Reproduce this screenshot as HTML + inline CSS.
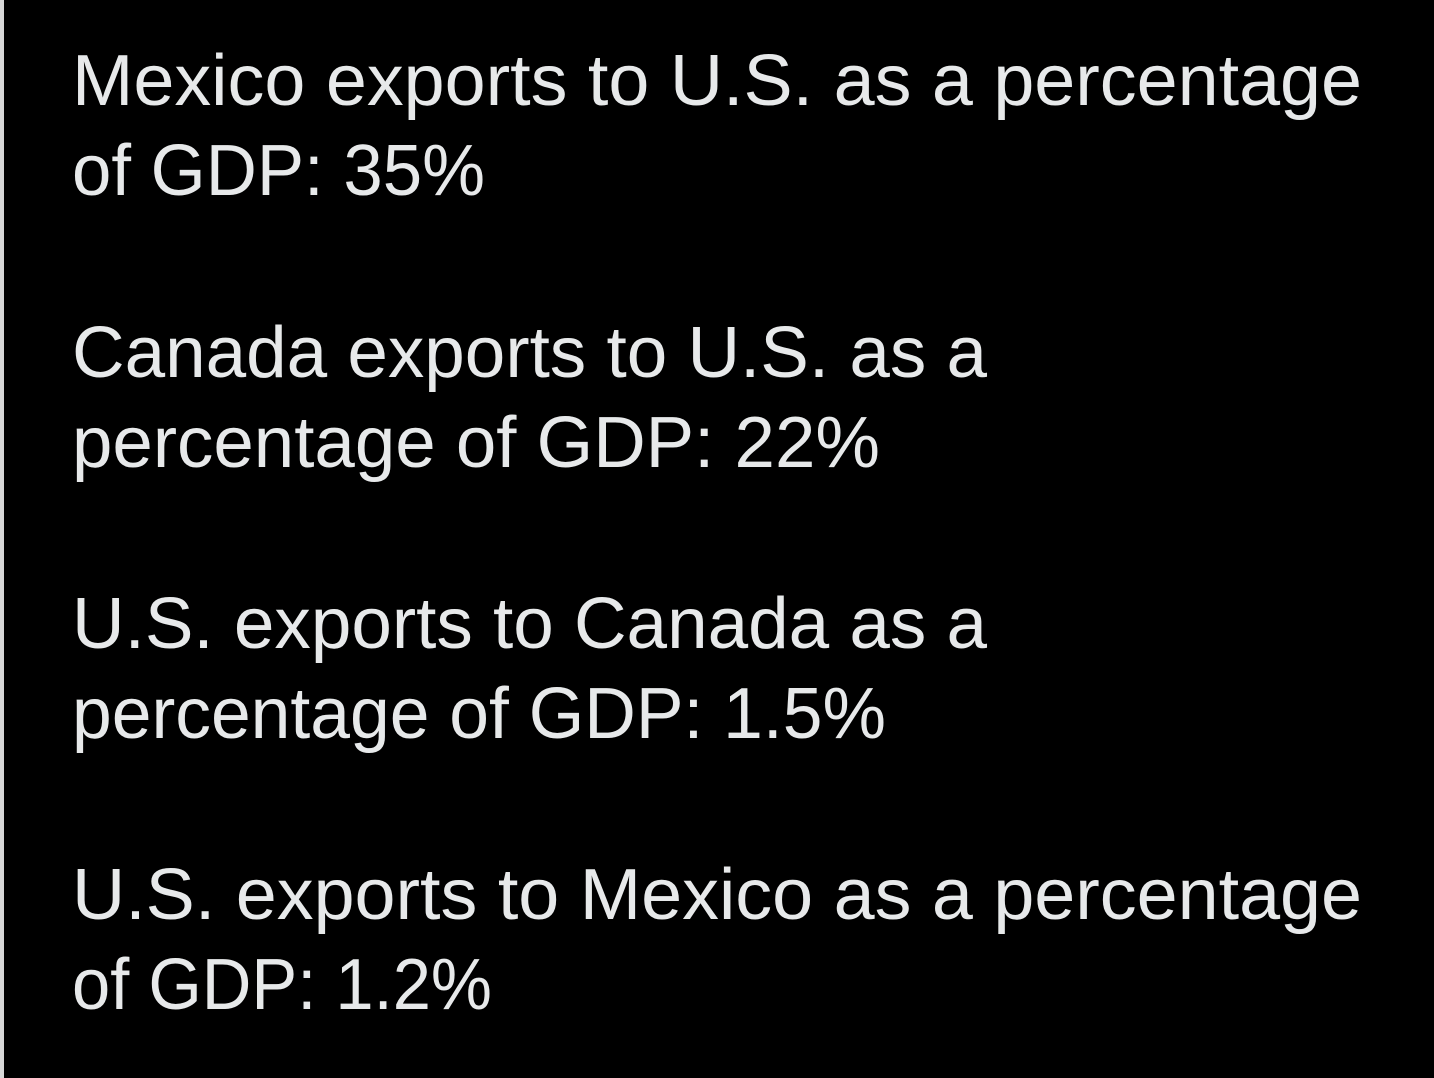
<!DOCTYPE html>
<html><head><meta charset="utf-8"><style>
html,body{margin:0;padding:0;background:#000;}
body{width:1434px;height:1078px;overflow:hidden;position:relative;}
.b{position:absolute;left:0;top:0;width:4px;height:1078px;background:#d8d8d8;}
svg{position:absolute;left:0;top:0;}
text{font-family:"Liberation Sans",sans-serif;font-size:72px;fill:#e7e9ea;}
</style></head><body>
<div class="b"></div>
<svg width="1434" height="1078">
<text x="72" y="105" textLength="1290" lengthAdjust="spacingAndGlyphs">Mexico exports to U.S. as a percentage</text>
<text x="72" y="195" textLength="413" lengthAdjust="spacingAndGlyphs">of GDP: 35%</text>
<text x="72" y="377" textLength="915" lengthAdjust="spacingAndGlyphs">Canada exports to U.S. as a</text>
<text x="72" y="467" textLength="808" lengthAdjust="spacingAndGlyphs">percentage of GDP: 22%</text>
<text x="72" y="648" textLength="915" lengthAdjust="spacingAndGlyphs">U.S. exports to Canada as a</text>
<text x="72" y="738" textLength="814" lengthAdjust="spacingAndGlyphs">percentage of GDP: 1.5%</text>
<text x="72" y="919" textLength="1290" lengthAdjust="spacingAndGlyphs">U.S. exports to Mexico as a percentage</text>
<text x="72" y="1009" textLength="420" lengthAdjust="spacingAndGlyphs">of GDP: 1.2%</text>
</svg>
</body></html>
